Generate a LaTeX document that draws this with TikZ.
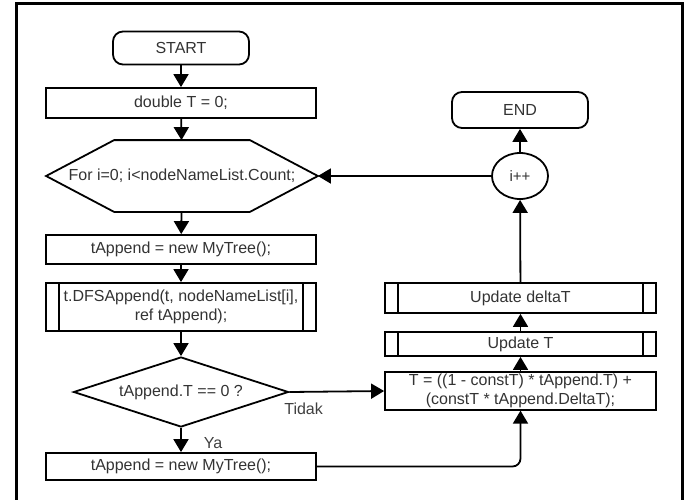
\documentclass[tikz,border=0pt]{standalone}
\usepackage{fontspec}
\setmainfont{Liberation Sans}
\usetikzlibrary{arrows.meta,shapes.geometric}
\tikzset{
  >={Triangle[width=15pt,length=13pt]},
  box/.style={draw,line width=1.8pt,inner sep=2pt,align=center,text=black!80,
    font=\fontsize{16}{18.5}\selectfont},
  proc/.style={box,minimum width=270pt},
  subproc/.style={proc,path picture={
      \draw[line width=1.8pt] ([xshift=13pt]path picture bounding box.north west)
        -- ([xshift=13pt]path picture bounding box.south west);
      \draw[line width=1.8pt] ([xshift=-13pt]path picture bounding box.north east)
        -- ([xshift=-13pt]path picture bounding box.south east);}},
  term/.style={box,rounded corners=10pt,minimum width=136pt},
  flow/.style={->,line width=1.8pt},
  lbl/.style={inner sep=0pt,text=black!75,font=\fontsize{16}{18}\selectfont},
}

\begin{document}
\begin{tikzpicture}[x=1pt,y=-1pt]
    \useasboundingbox (0,0) rectangle (689,499);
    \draw[line width=3pt] (16,3) rectangle (682,510);

    \node[term,minimum height=33pt] (start) at (181,48) {START};
    \node[proc,minimum height=30pt] (init) at (181,103) {double T = 0;};
    \node[box,draw=none,minimum width=270pt,minimum height=70pt] (loop) at (182,176)
      {For i=0; i<nodeNameList.Count;};
    \draw[line width=1.8pt] (loop.west) -- ([xshift=68pt]loop.north west)
      -- ([xshift=-68pt]loop.north east) -- (loop.east)
      -- ([xshift=-68pt]loop.south east) -- ([xshift=68pt]loop.south west) -- cycle;
    \node[proc,minimum height=29pt] (newtree) at (181,249.5) {tAppend = new MyTree();};
    \node[subproc,minimum height=48pt] (dfs) at (181,307)
      {t.DFSAppend(t, nodeNameList[i],\\ ref tAppend);};
    \node[box,diamond,aspect=3.07,inner sep=0pt,minimum width=215pt,minimum height=70pt]
      (test) at (181,392) {tAppend.T == 0 ?};
    \node[proc,minimum height=27pt] (newtree2) at (181,466.5) {tAppend = new MyTree();};

    \node[term,minimum height=36pt] (end) at (520,110) {END};
    \node[box,ellipse,inner sep=0pt,minimum width=56pt,minimum height=46pt,
      font=\fontsize{15}{17}\selectfont] (inc) at (520,176) {i++};
    \node[subproc,minimum width=271pt,minimum height=30pt] (upddelta) at (520.5,298)
      {Update deltaT};
    \node[subproc,minimum width=271pt,minimum height=24pt] (updt) at (520.5,344)
      {Update T};
    \node[proc,minimum width=271pt,minimum height=36pt] (calc) at (520.5,391)
      {T = ((1 - constT) * tAppend.T) +\\ (constT * tAppend.DeltaT);};

    \begin{scope}[flow]
      \draw (start) -- (init);
      \draw (init) -- (loop);
      \draw (loop) -- (newtree);
      \draw (newtree) -- (dfs);
      \draw (dfs) -- (test);
      \draw (test) -- (newtree2) node[lbl,midway,right=22pt,yshift=-3pt]{Ya};
      \draw (test.east) -- (calc.west) node[lbl,pos=0.15,below=10pt]{Tidak};
      \draw[rounded corners=8pt] (newtree2.east) -| (calc.south);
      \draw (calc) -- (updt);
      \draw (updt) -- (upddelta);
      \draw (upddelta) -- (inc);
      \draw (inc) -- (end);
      \draw (inc) -- (loop);
    \end{scope}
  \end{tikzpicture}
\end{document}
